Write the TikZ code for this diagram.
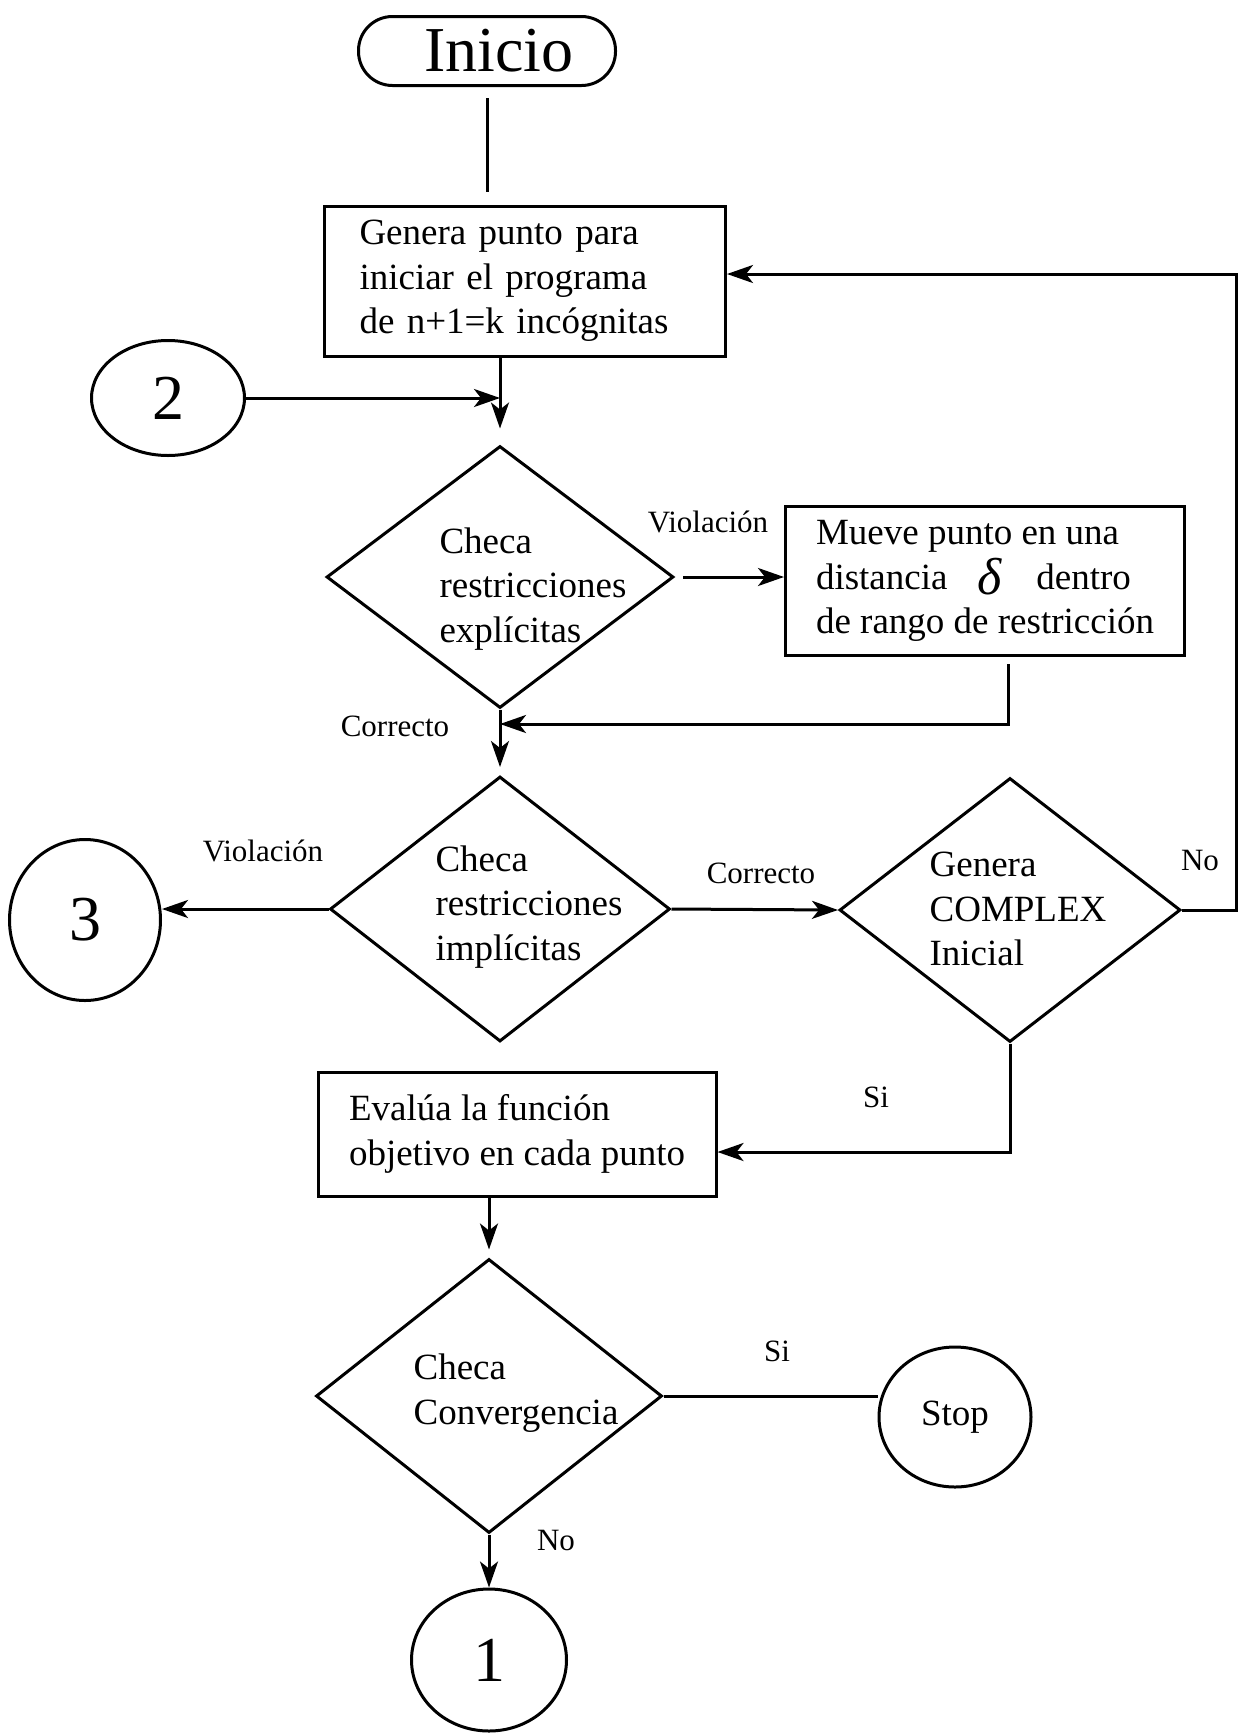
\documentclass[tikz,border=0pt]{standalone}
\usepackage{fontspec}
\setmainfont{Liberation Serif}
\usetikzlibrary{shapes.geometric,arrows.meta}
\newcommand{\txt}{\fontsize{37}{44.5}\selectfont}
\newcommand{\lbl}{\fontsize{31}{36}\selectfont}
\newcommand{\grande}{\fontsize{64}{70}\selectfont}
\newcommand{\delt}{\smash{\raisebox{-5pt}{\fontsize{52}{52}\selectfont\textit{δ}}}}

\begin{document}
\begin{tikzpicture}[x=1pt,y=1pt,line width=3pt]
\tikzstyle{every node}+=[inner sep=0pt]
\tikzstyle{caja}=[draw,rectangle,font=\txt,align=left]
\tikzstyle{rombo}=[draw,diamond]
\tikzstyle{conector}=[draw,ellipse,font=\grande]
\tikzstyle{flecha}=[-{Stealth[length=26pt,width=18pt,inset=7pt]}]
\tikzstyle{etiqueta}=[font=\lbl]
\useasboundingbox (0,0) rectangle (1256,-1733);
\node[draw,rectangle,rounded corners=34pt,minimum width=257pt,minimum height=69pt,font=\grande] (ini) at (487,-51) {\hspace{24pt}Inicio};
\node[caja,minimum width=401pt,minimum height=150pt,text width=331pt] (gen) at (525,-281) {Genera punto para\\iniciar el programa\\de n+1=k incógnitas};
\node[conector,minimum width=153pt,minimum height=115pt] (c2) at (168,-398) {2};
\node[rombo,minimum width=347pt,minimum height=262pt] (exp) at (500,-577) {};
\node[font=\txt,align=left] (exptxt) at (533,-589) {Checa\\restricciones\\explícitas};
\node[caja,minimum width=399pt,minimum height=149pt] (mueve) at (985,-581) {Mueve punto en una\\distancia\hspace{30pt}\delt\hspace{34pt}dentro\\de rango de restricción};
\node[rombo,minimum width=340pt,minimum height=265pt] (imp) at (500,-909) {};
\node[font=\txt,align=left] (imptxt) at (529,-907) {Checa\\restricciones\\implícitas};
\node[conector,minimum width=151pt,minimum height=161pt] (c3) at (85,-920) {3};
\node[rombo,minimum width=341pt,minimum height=264pt] (cpx) at (1010,-910) {};
\node[font=\txt,align=left] (cpxtxt) at (1018,-909) {Genera\\COMPLEX\\Inicial};
\node[caja,minimum width=398pt,minimum height=124pt] (eva) at (517,-1134) {Evalúa la función\\objetivo en cada punto};
\node[rombo,minimum width=346pt,minimum height=274pt] (conv) at (489,-1396) {};
\node[font=\txt,align=left] (convtxt) at (516,-1393) {Checa\\Convergencia};
\node[draw,ellipse,minimum width=152pt,minimum height=140pt,font=\txt] (stop) at (955,-1417) {Stop};
\node[conector,minimum width=155pt,minimum height=142pt] (c1) at (489,-1660) {1};
\coordinate (j1) at (500,-724);
\coordinate (k1) at (1236,-274);
\coordinate (k2) at (1010,-1152);
\draw[shorten <=11pt,shorten >=13pt] (ini.south) -- (ini.south |- gen.north);
\draw[flecha,shorten >=16pt] (exp.north |- gen.south) -- (exp.north);
\draw[flecha] (c2.east) -- (c2.east -| exp.north);
\draw[flecha,shorten <=8pt] (exp.east) -- (exp.east -| mueve.west);
\draw[flecha] ([xshift=23pt,yshift=-7pt]mueve.south) |- (j1);
\draw[flecha,shorten >=8pt] (exp.south) -- (imp.north);
\draw[flecha] (imp.west) -- (imp.west -| c3.east);
\draw[flecha] (imp.east) -- (cpx.west);
\draw[flecha] (cpx.east) -| (k1) -- (k1 -| gen.east);
\draw[flecha] (cpx.south) -- (k2) -- (k2 -| eva.east);
\draw[flecha,shorten >=8pt] (conv.north |- eva.south) -- (conv.north);
\draw (conv.east) -- (conv.east -| stop.west);
\draw[flecha] (conv.south) -- (c1.north);
\node[etiqueta] (v1) at (708,-522) {Violación};
\node[etiqueta] (co1) at (395,-726) {Correcto};
\node[etiqueta] (v2) at (263,-851) {Violación};
\node[etiqueta] (co2) at (761,-873) {Correcto};
\node[etiqueta] (no1) at (1200,-860) {No};
\node[etiqueta] (si1) at (876,-1097) {Si};
\node[etiqueta] (si2) at (777,-1351) {Si};
\node[etiqueta] (no2) at (556,-1540) {No};
\end{tikzpicture}
\end{document}
